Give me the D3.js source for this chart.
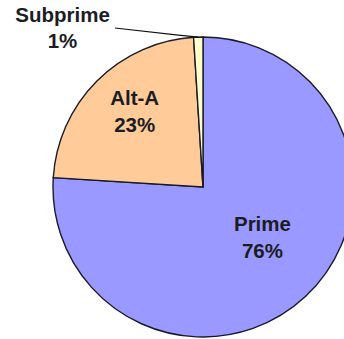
<!DOCTYPE html>
<html>
<head>
<meta charset="utf-8">
<script src="https://cdn.jsdelivr.net/npm/d3@7/dist/d3.min.js"></script>
<style>
  html, body { margin: 0; padding: 0; background: #fff; }
  svg { display: block; }
  text { font-family: "Liberation Sans", Arial, sans-serif; font-weight: bold; fill: #1c1c24; }
</style>
</head>
<body>
<svg id="chart" width="344" height="339"></svg>
<script>
// Loan share by category
const categories = ["Prime", "Alt-A", "Subprime"];
const shares = [76, 23, 1];
const shareLabels = ["76%", "23%", "1%"];
const colors = ["#9999ff", "#ffcc99", "#ffffcc"];

const width = 344, height = 339;
const cx = 203, cy = 187, radius = 150;
const fontSize = 20.5;

const svg = d3.select("#chart");
const g = svg.append("g").attr("transform", `translate(${cx},${cy})`);

const rows = categories.map((c, i) => ({ name: c, value: shares[i], label: shareLabels[i], color: colors[i] }));

const pie = d3.pie().value(d => d.value).sort(null).startAngle(0).endAngle(2 * Math.PI);
const arcs = pie(rows);

const arc = d3.arc().innerRadius(0).outerRadius(radius);
const labelArc = d3.arc().innerRadius(radius * 0.55).outerRadius(radius * 0.55);

g.selectAll("path.slice")
  .data(arcs)
  .join("path")
  .attr("class", "slice")
  .attr("d", arc)
  .attr("fill", d => d.data.color)
  .attr("stroke", "#1a1a2a")
  .attr("stroke-width", 1.4)
  .attr("stroke-linejoin", "miter");

// inside labels: nudges relative to the label-arc centroid
const nudge = { "Prime": [3, -16], "Alt-A": [-10, -24] };
const lineGap = 27;

arcs.filter(d => nudge[d.data.name]).forEach(d => {
  const [x, y] = labelArc.centroid(d);
  const [nx, ny] = nudge[d.data.name];
  const t = g.append("text")
    .attr("text-anchor", "middle")
    .attr("font-size", fontSize)
    .attr("x", x + nx)
    .attr("y", y + ny);
  t.append("tspan").attr("x", x + nx).attr("dy", 0).text(d.data.name);
  t.append("tspan").attr("x", x + nx).attr("dy", lineGap).text(d.data.label);
});

// small slice: label outside with a leader line
const small = arcs.find(d => d.data.name === "Subprime");
const mid = (small.startAngle + small.endAngle) / 2;
const edge = [radius * Math.sin(mid), -radius * Math.cos(mid)];
const labelPos = [62.5 - cx, 22 - cy];
const leaderStart = [115 - cx, 28 - cy];

g.append("path")
  .attr("d", d3.line()([leaderStart, [edge[0] - 20, edge[1] - 2], edge]))
  .attr("fill", "none")
  .attr("stroke", "#111")
  .attr("stroke-width", 1.2);

const st = g.append("text")
  .attr("text-anchor", "middle")
  .attr("font-size", fontSize)
  .attr("x", labelPos[0])
  .attr("y", labelPos[1]);
st.append("tspan").attr("x", labelPos[0]).attr("dy", 0).text(small.data.name);
st.append("tspan").attr("x", labelPos[0]).attr("dy", 26).text(small.data.label);
</script>
</body>
</html>
